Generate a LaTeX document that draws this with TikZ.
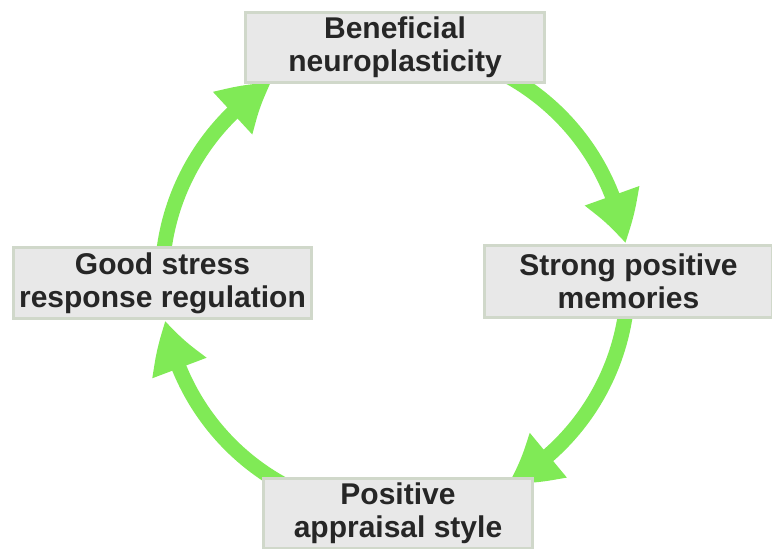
\documentclass[tikz,border=0pt]{standalone}
\usepackage{fontspec}
\setmainfont{Liberation Sans}
\usetikzlibrary{arrows.meta,bending}
\definecolor{cycgreen}{RGB}{128,234,86}
\definecolor{boxfill}{RGB}{232,232,232}
\definecolor{boxline}{RGB}{208,216,202}
\definecolor{txtgray}{RGB}{38,38,38}
\begin{document}
\begin{tikzpicture}[x=1pt,y=1pt,
  stage/.style={draw=boxline, line width=3pt, fill=boxfill, text=txtgray,
    inner sep=0pt, align=center,
    font=\fontsize{30}{33}\selectfont\bfseries},
  cyc/.style={draw=cycgreen, line width=15pt,
    -{Triangle[length=50pt,width=54pt,bend]}}]
  \useasboundingbox (-395,-269) rectangle (377,280);
  % points on the circle where the arcs start
  \coordinate (s1) at (62:233);
  \coordinate (s2) at (-4:233);
  \coordinate (s3) at (-118:233);
  \coordinate (s4) at (176:233);
  \draw[cyc] (s1) arc[start angle=62, end angle=9, radius=233];
  \draw[cyc] (s2) arc[start angle=-4, end angle=-61, radius=233];
  \draw[cyc] (s3) arc[start angle=-118, end angle=-170, radius=233];
  \draw[cyc] (s4) arc[start angle=176, end angle=122, radius=233];
  % the four stages
  \node[stage, minimum width=299pt, minimum height=70pt] (benef) at (0,232.5) {Beneficial\\neuroplasticity};
  \node[stage, minimum width=287pt, minimum height=72pt] (strong) at (233.5,-1.5) {Strong positive\\memories};
  \node[stage, minimum width=269pt, minimum height=70pt] (apprais) at (3,-233.5) {Positive\\appraisal style};
  \node[stage, minimum width=298pt, minimum height=71pt] (goodstress) at (-232.5,-3) {Good stress\\response regulation};
\end{tikzpicture}
\end{document}
